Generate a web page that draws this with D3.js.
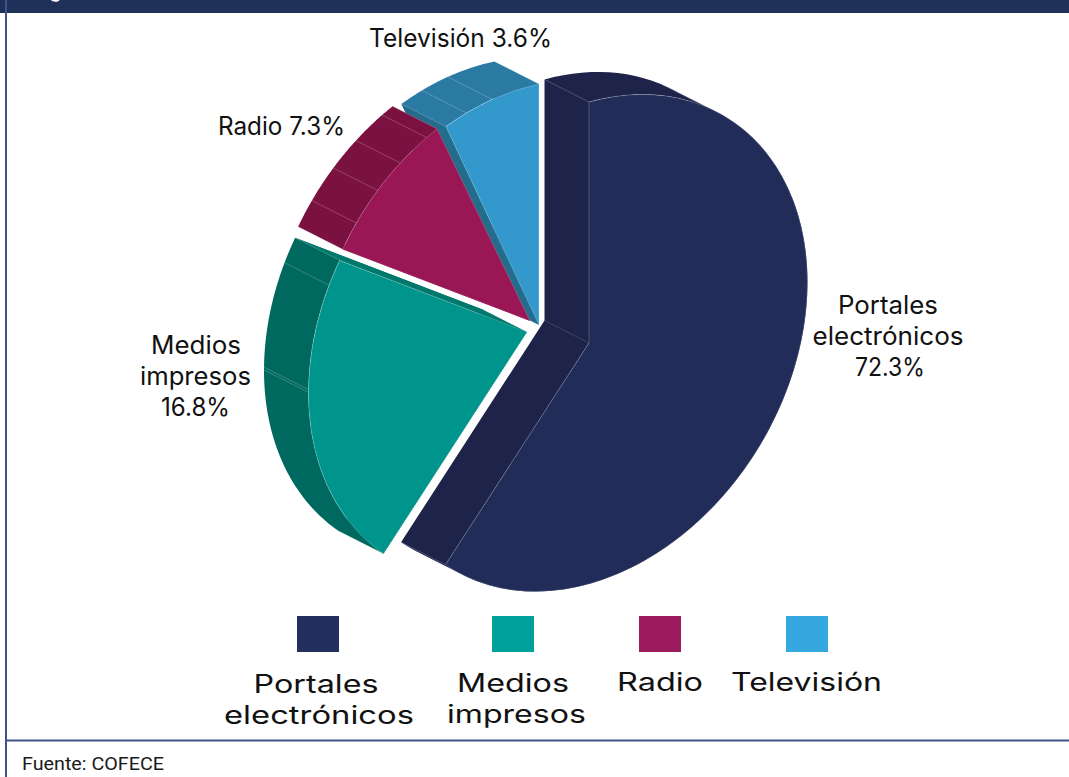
<!DOCTYPE html>
<html><head><meta charset="utf-8">
<script src="https://cdn.jsdelivr.net/npm/d3@7"></script>
<style>html,body{margin:0;padding:0;background:#fff;overflow:hidden}svg{display:block}</style>
</head><body><svg id="c" width="1069" height="777"></svg>
<script>
// Data
const categories = ["Portales electrónicos", "Medios impresos", "Radio", "Televisión"];
const labelValues = [72.3, 16.8, 7.3, 3.6];           // percentages printed in the labels
const drawnShares = [61.4, 22.2, 9.4, 7.0];           // slice sizes as actually drawn in the picture
const wallSeams = [[0.147], [0.614, 0.622, 0.926], [0.19, 0.44, 0.67, 0.91], [0.23, 0.51]];

// Styles
const topColors  = ["#212d58", "#00958c", "#991755", "#3399cc"];
const wallColors = ["#1e2349", "#00695f", "#7b1140", "#2b7aa4"];
const edgeColors = ["#1e2349", "#00786c", "#7b1140", "#246c8c"];
const legendColors = ["#232f5e", "#00a19a", "#9c1a5e", "#35a8e0"];
const apexes = [[589,343],[527,332],[530,321],[539,325]];
const shears = [60.9,60.9,60.9,46];
const depth = [-44.5,-22.5];
const svg = d3.select("#c");
const FONT = "Inter, 'Noto Sans', sans-serif";

// Frame
svg.append("rect").attr("x",0).attr("y",0).attr("width",1069).attr("height",13).attr("fill","#1f3158");
svg.append("rect").attr("x",5).attr("y",0).attr("width",2).attr("height",777).attr("fill","#3d5488");
svg.append("rect").attr("x",6).attr("y",739.5).attr("width",1063).attr("height",2).attr("fill","#3d5488");
svg.append("text").attr("x",49).attr("y",-3).attr("fill","#fff").attr("font-family",FONT).attr("font-size",21).text("g");
svg.append("text").attr("x",22).attr("y",769.5).attr("fill","#1a1a1a").attr("font-family","Roboto, sans-serif").attr("font-size",18).attr("textLength",142).attr("lengthAdjust","spacingAndGlyphs").text("Fuente: COFECE");

// Pie in unit space, then an oblique projection
const AX=218.5, BY=241;
const pie = d3.pie().sort(null).value(d=>d).startAngle(0).endAngle(2*Math.PI);
const arcs = pie(drawnShares);
const arcGen = d3.arc().innerRadius(0).outerRadius(1);
const project = (th,c,s)=>[c[0]+AX*Math.sin(th), c[1]-s*Math.sin(th)-BY*Math.cos(th)];
const line = d3.line();
const quad = (a,b)=>{
  let q=[a,b,[b[0]+depth[0],b[1]+depth[1]],[a[0]+depth[0],a[1]+depth[1]]];
  if(d3.polygonArea(q)<0) q=q.reverse();
  return line(q)+"Z";
};
function wallPath(arc,c,s){
  const n=90, pts=[c];
  for(let i=0;i<=n;i++) pts.push(project(arc.startAngle+(arc.endAngle-arc.startAngle)*i/n,c,s));
  pts.push(c);
  let d="";
  for(let i=0;i<pts.length-1;i++) d+=quad(pts[i],pts[i+1]);
  return d;
}

// Painted back to front
const order=[0,3,2,1];
const g=svg.append("g");
order.forEach(i=>{
  const arc=arcs[i], c=apexes[i], s=shears[i];
  g.append("path").attr("d",wallPath(arc,c,s)).attr("fill",wallColors[i]);
  if(i!==0) g.append("path").attr("d",quad(c,project(i===3?arc.startAngle:arc.endAngle,c,s))).attr("fill",edgeColors[i]);
  const span=arc.endAngle-arc.startAngle;
  [arc.startAngle,arc.endAngle].concat(wallSeams[i].map(f=>arc.startAngle+span*f)).forEach(th=>{
    const p=project(th,c,s);
    g.append("line").attr("x1",p[0]).attr("y1",p[1]).attr("x2",p[0]+depth[0]).attr("y2",p[1]+depth[1])
      .attr("stroke","#fff").attr("stroke-opacity",.3).attr("stroke-width",.7);
  });
  g.append("line").attr("x1",c[0]).attr("y1",c[1]).attr("x2",c[0]+depth[0]).attr("y2",c[1]+depth[1])
      .attr("stroke","#fff").attr("stroke-opacity",.2).attr("stroke-width",.7);
  g.append("path").attr("d",arcGen(arc))
    .attr("transform",`matrix(${AX},${-s},0,${BY},${c[0]},${c[1]})`)
    .attr("fill",topColors[i]).attr("stroke","#fff").attr("stroke-opacity",.3)
    .attr("stroke-width",.7).attr("vector-effect","non-scaling-stroke");
});

// Pie labels
const pieLabels=[
  {t:"Portales",x:888,y:314,w:100},{t:"electrónicos",x:888,y:345,w:151},{t:labelValues[0]+"%",x:890,y:376,w:70},
  {t:"Medios",x:196,y:354,w:90},{t:"impresos",x:195.5,y:385,w:111},{t:labelValues[1]+"%",x:195.5,y:416,w:69},
  {t:categories[2]+" "+labelValues[2]+"%",x:281.5,y:135,w:127},
  {t:categories[3]+" "+labelValues[3]+"%",x:460.5,y:47,w:183}
];
pieLabels.forEach(d=>{
  svg.append("text").attr("x",d.x).attr("y",d.y).attr("text-anchor","middle")
    .attr("font-family",FONT).attr("font-size",25).attr("fill","#111")
    .attr("textLength",d.w).attr("lengthAdjust","spacingAndGlyphs").text(d.t);
});

// Legend
const legendBoxX=[297,492,639,786];
const legendText=[
  [{t:"Portales",x:316,y:693,w:125},{t:"electrónicos",x:319,y:724,w:190}],
  [{t:"Medios",x:513,y:692,w:112},{t:"impresos",x:516.5,y:723,w:139}],
  [{t:"Radio",x:660,y:691,w:86}],
  [{t:"Televisión",x:806.5,y:691,w:151}]
];
legendBoxX.forEach((x,i)=>{
  svg.append("rect").attr("x",x).attr("y",616).attr("width",42).attr("height",36).attr("fill",legendColors[i]);
  legendText[i].forEach(d=>{
    svg.append("text").attr("x",d.x).attr("y",d.y).attr("text-anchor","middle")
      .attr("font-family",FONT).attr("font-size",25).attr("fill","#111")
      .attr("textLength",d.w).attr("lengthAdjust","spacingAndGlyphs").text(d.t);
  });
});
</script></body></html>
